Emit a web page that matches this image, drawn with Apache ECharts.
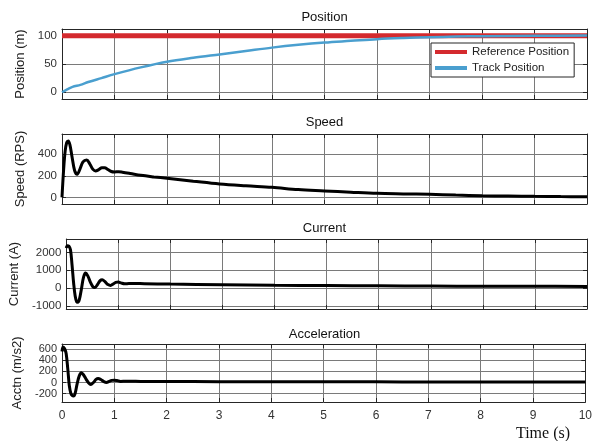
<!DOCTYPE html>
<html><head><meta charset="utf-8">
<script src="https://cdn.jsdelivr.net/npm/echarts@6/dist/echarts.min.js"></script>
<style>html,body{margin:0;padding:0;background:#fff}#c{width:595px;height:441px}</style>
</head><body><div id="c"></div>
<script>
// ---- data ----
const xTicks = [0,1,2,3,4,5,6,7,8,9,10];
const titles = ['Position','Speed','Current','Acceleration'];
const yNames = ['Position (m)','Speed (RPS)','Current (A)','Acctn (m/s2)'];
const yTicks = [[0,50,100],[0,200,400],[-1000,0,1000,2000],[-200,0,200,400,600]];
const yRanges = [[-12,112],[-62,589],[-1173,2754],[-353,696]];

const refT = [0,10];
const refV = [100,100];
const posT = [0,0.1,0.2,0.35,0.5,0.75,1,1.5,2,2.5,3,3.5,4,4.5,5,5.5,6,6.5,7,7.5,8,9,10];
const posV = [0,5,9.5,13,18,25,32,44,54,61,67,73,79,84,88,91,94,96,97.5,98.5,99.3,100,100.5];

const speedT = [0,0.03,0.06,0.09,0.12,0.15,0.19,0.24,0.29,0.34,0.40,0.47,0.53,0.59,0.64,0.70,0.76,0.81,0.88,0.94,1.0,1.08,1.15,1.3,1.5,1.75,2,2.5,3,3.5,4,4.5,5,5.5,6,6.5,7,7.5,8,8.5,9,9.5,10];
const speedV = [0,250,430,510,525,490,380,250,215,260,330,348,310,260,245,258,275,275,258,240,236,238,234,222,205,190,177,150,124,107,93,72,60,48,37,32,28,21,15,12,9,7,6];

const curT = [0,0.02,0.05,0.08,0.11,0.14,0.17,0.2,0.22,0.25,0.29,0.33,0.37,0.41,0.46,0.51,0.55,0.6,0.65,0.69,0.74,0.8,0.85,0.9,0.95,1.0,1.05,1.12,1.2,1.3,1.5,2,3,4,5,6,7,8,9,10];
const curV = [2250,2380,2350,2150,1300,300,-450,-780,-800,-650,-50,600,840,700,350,80,35,200,420,465,370,200,150,230,320,335,290,240,255,260,245,225,190,160,140,125,115,105,100,95];

const accT = [0,0.02,0.05,0.08,0.11,0.14,0.17,0.2,0.22,0.25,0.29,0.33,0.37,0.41,0.46,0.51,0.55,0.6,0.65,0.69,0.74,0.8,0.85,0.9,0.95,1.0,1.05,1.12,1.2,1.3,1.5,2,3,4,5,6,7,8,9,10];
const accV = [560,640,610,520,250,-60,-200,-240,-245,-200,-20,120,175,140,60,-10,-35,0,55,73,55,15,0,20,38,42,35,20,22,24,20,18,15,13,12,11,10,9,9,8];

const zip = (a,b) => a.map((t,i)=>[t,b[i]]);

// ---- layout ----
const gridTops = [29,134,239,344];
const gridHeights = [70,70,70,58];
const titleY = [17.5,122,228,334];
const FONT = 'Liberation Sans, Arial, sans-serif';
const AX = '#262626';
const GRIDC = '#7a7a7a';

const grids = [], xAxes = [], yAxes = [], graphics = [];
for (let i=0;i<4;i++){
  grids.push({left:62, right:8, top:gridTops[i], height:gridHeights[i], containLabel:false});
  const base = {type:'value', gridIndex:i, min:0, max:10, interval:1,
    axisLine:{show:true, onZero:false, lineStyle:{color:AX,width:1}},
    axisTick:{show:true, inside:true, length:4, lineStyle:{color:AX}}};
  xAxes.push(Object.assign({}, base, {position:'bottom',
    axisLabel:{show:i===3, color:'#333', fontSize:12, fontFamily:FONT, margin:8, formatter:v=>String(v)},
    splitLine:{show:true, lineStyle:{color:GRIDC,width:1}}}));
  xAxes.push(Object.assign({}, base, {position:'top', axisLabel:{show:false}, splitLine:{show:false}}));
  const yb = {type:'value', gridIndex:i, min:yRanges[i][0], max:yRanges[i][1],
    axisLine:{show:true, onZero:false, lineStyle:{color:AX,width:1}}};
  const fs = i===3 ? 11 : 11.5;
  yAxes.push(Object.assign({}, yb, {position:'left', name:yNames[i], nameLocation:'middle', nameGap:33,
    nameTextStyle:{fontSize:13, fontFamily:FONT, color:'#222'},
    axisTick:{show:true, inside:true, length:4, lineStyle:{color:AX}, customValues:yTicks[i]},
    axisLabel:{show:true, color:'#333', fontSize:fs, lineHeight:fs, fontFamily:FONT, margin:5,
      customValues:yTicks[i], hideOverlap:false, formatter:v=>String(v)},
    splitLine:{show:true, lineStyle:{color:GRIDC,width:1}}}));
  yAxes.push(Object.assign({}, yb, {position:'right',
    axisTick:{show:true, inside:true, length:4, lineStyle:{color:AX}, customValues:yTicks[i]},
    axisLabel:{show:false}, splitLine:{show:false}}));
  graphics.push({type:'text', x:324.5, y:titleY[i], style:{text:titles[i], textAlign:'center', textVerticalAlign:'middle', font:'13px '+FONT, fill:'#111'}});
}
graphics.push({type:'text', x:543, y:434, style:{text:'Time (s)', textAlign:'center', textVerticalAlign:'middle', font:'16px Liberation Serif, Times New Roman, serif', fill:'#111'}});

const lineS = (name, data, xi, yi, color, w) => ({name, type:'line', data, xAxisIndex:xi, yAxisIndex:yi,
  symbol:'none', smooth:0.35, lineStyle:{color, width:w}, itemStyle:{color}, animation:false});

const option = {
  animation:false,
  grid:grids, xAxis:xAxes, yAxis:yAxes, graphic:graphics,
  legend:{show:true, orient:'vertical', left:431, top:43, padding:[3,5,3,4], itemGap:4,
    itemWidth:32, itemHeight:4, icon:'rect', backgroundColor:'#fff', borderColor:AX, borderWidth:1,
    textStyle:{fontSize:11.5, fontFamily:FONT, color:'#222'},
    data:['Reference Position','Track Position']},
  series:[
    lineS('Reference Position', zip(refT,refV), 0,0,'#d42a2e',5),
    lineS('Track Position', zip(posT,posV), 0,0,'#4a9fcf',2.5),
    lineS('Speed', zip(speedT,speedV), 2,2,'#000',3),
    lineS('Current', zip(curT,curV), 4,4,'#000',3),
    lineS('Acceleration', zip(accT,accV), 6,6,'#000',3)
  ]
};
const chart = echarts.init(document.getElementById('c'), null, {renderer:'canvas'});
chart.setOption(option);
</script></body></html>
